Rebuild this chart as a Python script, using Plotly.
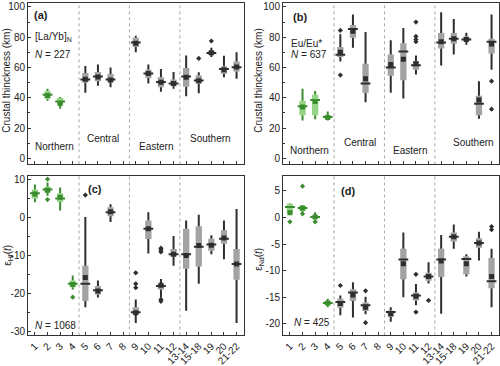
import plotly.graph_objects as go

CATS = ["1", "2", "3", "4", "5", "6", "7", "8", "9", "10", "11", "12",
        "13-14", "15-18", "19", "20", "21-22"]
NORTH = ["1", "2", "3", "4"]

# ---------------- panel (a) [La/Yb]N crustal thickness ----------------
a_cats = ["2", "3", "5", "6", "7", "9", "10", "11", "12", "13-14", "15-18", "19", "20", "21-22"]
a_lo = [38, 32.7, 43.4, 48, 47, 70, 49.5, 44, 46, 41, 43, 67, 53.5, 52.5]
a_q1 = [39.3, 35.5, 50, 51, 50.3, 73.5, 53, 47, 47.7, 47.3, 49.2, 68.2, 55.7, 57.4]
a_med = [42, 37.5, 52, 54, 52, 76.5, 56, 50.5, 49.5, 54, 51.5, 69.5, 59, 60.2]
a_q3 = [44.5, 39.8, 56.3, 57, 55.7, 79.6, 58.5, 53.5, 52, 59.6, 54.8, 71, 60.6, 63.9]
a_hi = [46, 40.6, 61, 62, 60, 81, 62, 59, 57, 68, 56.8, 73, 67.7, 70]
a_mean = [41.5, 36.3, 52.3, 53.8, 51.8, 76, 56, 50.3, 49.5, 53.5, 51.2, 69.8, 58.5, 60.3]
a_out_x = ["15-18", "19"]
a_out_y = [66, 77.5]

# ---------------- panel (b) Eu/Eu* crustal thickness ----------------
b_cats = ["2", "3", "4", "5", "6", "7", "9", "10", "11", "13-14", "15-18", "19", "20", "21-22"]
b_lo = [25, 25.8, 25, 64, 73, 37, 43.4, 39.6, 55.3, 61.3, 68.6, 75, 26.2, 58.5]
b_q1 = [28.4, 28.4, 26.2, 67, 79.6, 43.4, 54.6, 51.6, 58.5, 72.5, 75.7, 77.4, 28.4, 69.2]
b_med = [34.4, 38.5, 27.3, 68.5, 85.5, 49.5, 60, 70.5, 61.5, 76.5, 79, 78.5, 36, 77]
b_q3 = [38, 42, 28.4, 73.5, 88, 62.5, 68.6, 76, 64.3, 82.8, 82.8, 80.4, 41.3, 79]
b_hi = [46, 44.5, 31, 82, 95, 83.5, 78, 86, 68, 96.5, 92, 83, 51, 95]
b_mean = [34, 37.5, 27, 70, 84, 52.5, 62, 65.5, 62.5, 77, 79, 78.5, 38.5, 75.5]
b_out_x = ["5", "5", "11", "11", "11", "11", "21-22", "21-22"]
b_out_y = [84.5, 55, 90, 80.5, 78.5, 77, 51, 32.5]

# ---------------- panel (c) eHf(t) ----------------
c_cats = ["1", "2", "3", "4", "5", "6", "7", "9", "10", "11", "12", "13-14", "15-18", "19", "20", "21-22"]
c_lo = [4.1, 5.8, 1.9, -18.9, -23.6, -21, -1.1, -27.7, -9.4, -21, -12.6, -24.5, -17.4, -9.6, -10.9, -27.7]
c_q1 = [5.1, 6.7, 4.2, -18.3, -21.9, -20.2, 0.4, -25.5, -5.6, -18.9, -10.2, -13.4, -12.8, -8.7, -6.8, -16.3]
c_med = [6.5, 7.5, 5.1, -17.4, -17.4, -19.1, 1.5, -24.9, -2.9, -18, -9.6, -9.6, -7.6, -7, -5.5, -12.2]
c_q3 = [7.5, 8.2, 6.5, -16.5, -12.6, -18, 2.8, -23.6, -0.7, -17.4, -8.2, -2.9, -2.2, -5.5, -3.3, -8.2]
c_hi = [8.8, 9.3, 8, -15.2, 0.2, -16.5, 3.6, -21.5, 1.5, -16.1, -4.8, -0.7, 0.8, -4.6, -0.7, 2.3]
c_mean = [6.3, 7.3, 5.4, -17.6, -15.7, -19.3, 1.6, -25.0, -2.9, -17.8, -9.6, -9.9, -7.3, -7.2, -5.3, -12.2]
c_out_x = ["2", "2", "4", "5", "9", "9", "9", "11", "11", "11", "11", "11"]
c_out_y = [10.2, 4.8, -20.9, 6, -14.5, -17.4, -18.4, -8, -8.5, -9, -21.5, -22]

# ---------------- panel (d) eNd(t) ----------------
d_cats = ["1", "2", "3", "4", "5", "6", "7", "9", "10", "11", "12", "13-14", "15-18", "19", "20", "21-22"]
d_lo = [0.5, 0.6, -0.3, -16.9, -18.4, -18.8, -18.2, -19.6, -15, -16.5, -12.4, -18.1, -5.9, -11.1, -8.1, -16.9]
d_q1 = [0.8, 1.2, -0.2, -16.5, -17, -15.7, -17.6, -18.7, -11.6, -15.6, -11.9, -11.2, -4.5, -10.7, -5.7, -13.3]
d_med = [2.0, 1.8, 0.1, -16.1, -15.9, -14.1, -16.5, -17.8, -7.9, -14.7, -11.1, -7.9, -3.6, -7.8, -4.8, -12]
d_q3 = [2.6, 2.2, 0.4, -15.7, -15.3, -13.5, -16, -17.5, -5.9, -14.1, -10.4, -5.9, -2.8, -7.3, -3.9, -7.6]
d_hi = [2.7, 2.3, 1.0, -15.3, -14.7, -12.2, -14.9, -16.9, -2.8, -12.5, -8.4, -3.3, -1.3, -6.9, -2.7, -5.9]
d_mean = [0.9, 1.8, 0.1, -16.1, -16.2, -14.6, -16.9, -18.1, -8.7, -14.8, -11.1, -8.2, -3.6, -8.7, -4.8, -11.1]
d_out_x = ["1", "2", "2", "3", "5", "7", "7", "11", "11", "12", "21-22", "21-22"]
d_out_y = [-0.8, 5.9, 0.7, -0.8, -12.8, -13.8, -19.8, -10.7, -17.8, -15.6, -1.7, -2.3]

REGIONS = ["Northern", "Central", "Eastern", "Southern"]
SEPARATORS = [3.5, 7.5, 11.5]

# ---------------- styling ----------------
W, H = 500, 366
FONT = "Arial, Liberation Sans, sans-serif"
GRAY_FILL = "#a3a3a3"
GRAY_LINE = "#2e2e2e"
GREEN_FILL = "#93d585"
GREEN_LINE = "#3a8c2e"
AXIS = "#333333"


def px(x):
    return x / W


def py(y):
    return 1 - y / H


fig = go.Figure()

panels = [
    dict(cats=a_cats, lo=a_lo, q1=a_q1, med=a_med, q3=a_q3, hi=a_hi, mean=a_mean,
         ox=a_out_x, oy=a_out_y, xa="x", ya="y"),
    dict(cats=b_cats, lo=b_lo, q1=b_q1, med=b_med, q3=b_q3, hi=b_hi, mean=b_mean,
         ox=b_out_x, oy=b_out_y, xa="x2", ya="y2"),
    dict(cats=c_cats, lo=c_lo, q1=c_q1, med=c_med, q3=c_q3, hi=c_hi, mean=c_mean,
         ox=c_out_x, oy=c_out_y, xa="x3", ya="y3"),
    dict(cats=d_cats, lo=d_lo, q1=d_q1, med=d_med, q3=d_q3, hi=d_hi, mean=d_mean,
         ox=d_out_x, oy=d_out_y, xa="x4", ya="y4"),
]

for p in panels:
    xi = [CATS.index(c) for c in p["cats"]]
    green = [c in NORTH for c in p["cats"]]
    fills = [GREEN_FILL if g else GRAY_FILL for g in green]
    lines = [GREEN_LINE if g else GRAY_LINE for g in green]
    # boxes (interquartile range)
    fig.add_trace(go.Bar(
        x=xi, base=p["q1"], y=[b - a for a, b in zip(p["q1"], p["q3"])],
        width=0.5, marker=dict(color=fills, line=dict(width=0)),
        xaxis=p["xa"], yaxis=p["ya"], showlegend=False, hoverinfo="skip"))
    # whiskers
    for gflag, col in [(True, GREEN_LINE), (False, GRAY_LINE)]:
        wx, wy = [], []
        for k, x in enumerate(xi):
            if green[k] != gflag:
                continue
            wx += [x, x, None, x, x, None]
            wy += [p["lo"][k], p["q1"][k], None, p["q3"][k], p["hi"][k], None]
        if wx:
            fig.add_trace(go.Scatter(
                x=wx, y=wy, mode="lines", line=dict(color=col, width=2),
                xaxis=p["xa"], yaxis=p["ya"], showlegend=False, hoverinfo="skip"))
    # medians
    fig.add_trace(go.Scatter(
        x=xi, y=p["med"], mode="markers",
        marker=dict(symbol="line-ew", size=7, line=dict(color=lines, width=2)),
        xaxis=p["xa"], yaxis=p["ya"], showlegend=False, hoverinfo="skip"))
    # means
    fig.add_trace(go.Scatter(
        x=xi, y=p["mean"], mode="markers",
        marker=dict(symbol="square", size=5, color=lines, line=dict(width=0)),
        xaxis=p["xa"], yaxis=p["ya"], showlegend=False, hoverinfo="skip"))
    # outliers
    oxi = [CATS.index(c) for c in p["ox"]]
    ocol = [GREEN_LINE if c in NORTH else GRAY_LINE for c in p["ox"]]
    fig.add_trace(go.Scatter(
        x=oxi, y=p["oy"], mode="markers",
        marker=dict(symbol="diamond", size=4, color=ocol, line=dict(width=0)),
        xaxis=p["xa"], yaxis=p["ya"], showlegend=False, hoverinfo="skip"))

# ---------------- axes ----------------
XR = [-0.55, 16.59]
dom = {
    "a": ([28, 244], [1, 165]),
    "b": ([283, 499], [1, 165]),
    "c": ([28, 244], [177, 339]),
    "d": ([283, 499], [177, 339]),
}


def xdom(k):
    return [px(dom[k][0][0]), px(dom[k][0][1])]


def ydom(k):
    return [py(dom[k][1][1]), py(dom[k][1][0])]


common_x = dict(range=XR, tickmode="array", tickvals=list(range(len(CATS))),
                showline=True, linecolor=AXIS, linewidth=1, mirror=True,
                ticks="inside", ticklen=3, tickcolor=AXIS, showgrid=False,
                zeroline=False, tickfont=dict(family=FONT, size=10, color="#222"))

thick_ticks = [0, 20, 40, 60, 80, 100]
hf_ticks = [10, 0, -10, -20, -30]
nd_ticks = [5, 0, -5, -10, -15, -20]


def yax(rng, ticks, minor_vals, k):
    d = dict(range=rng, domain=ydom(k), tickmode="array", tickvals=ticks,
             ticktext=[str(t) for t in ticks],
             showline=True, linecolor=AXIS, linewidth=1, mirror=True,
             ticks="inside", ticklen=3, tickcolor=AXIS, showgrid=False,
             zeroline=False, tickfont=dict(family=FONT, size=10, color="#222"))
    if minor_vals:
        d["minor"] = dict(tickmode="array", tickvals=minor_vals, ticks="inside",
                          ticklen=2, tickcolor=AXIS, showgrid=False)
    return d


fig.update_layout(
    xaxis=dict(common_x, domain=xdom("a"), anchor="y", showticklabels=False),
    xaxis2=dict(common_x, domain=xdom("b"), anchor="y2", showticklabels=False),
    xaxis3=dict(common_x, domain=xdom("c"), anchor="y3", ticktext=CATS, tickangle=-45),
    xaxis4=dict(common_x, domain=xdom("d"), anchor="y4", ticktext=CATS, tickangle=-45),
    yaxis=dict(yax([-3.9, 102.6], thick_ticks, [10, 30, 50, 70, 90], "a"), anchor="x"),
    yaxis2=dict(yax([-3.9, 102.6], thick_ticks, [10, 30, 50, 70, 90], "b"), anchor="x2"),
    yaxis3=dict(yax([-31.0, 11.0], hf_ticks, [5, -5, -15, -25], "c"), anchor="x3"),
    yaxis4=dict(yax([-22.2, 7.8], nd_ticks, None, "d"), anchor="x4"),
)

# separators
shapes = []
for xa, ya in [("x", "y"), ("x2", "y2"), ("x3", "y3"), ("x4", "y4")]:
    for s in SEPARATORS:
        shapes.append(dict(type="line", xref=xa, yref=ya + " domain", x0=s, x1=s,
                           y0=0, y1=1, line=dict(color="#a8a8a8", width=1, dash="dot"),
                           layer="below"))

# annotations
ann = []


def text(x, y, t, size=10, bold=False, angle=0, xanchor="center", color="#222"):
    ann.append(dict(x=px(x), y=py(y), xref="paper", yref="paper", text=t,
                    showarrow=False, xanchor=xanchor, yanchor="middle",
                    textangle=angle, font=dict(family=FONT, size=size, color=color)))


text(41, 13, "<b>(a)</b>", size=11)
text(300, 15, "<b>(b)</b>", size=11)
text(95, 190, "<b>(c)</b>", size=11)
text(348, 192, "<b>(d)</b>", size=11)

text(33, 36, "[La/Yb]<sub>N</sub>", xanchor="left")
text(33, 53, "<i>N</i> = 227", xanchor="left")
text(289, 42, "Eu/Eu*", xanchor="left")
text(289, 53, "<i>N</i> = 637", xanchor="left")
text(33, 329, "<i>N</i> = 1068", xanchor="left")
text(292, 326, "<i>N</i> = 425", xanchor="left")

for (x, y), r in zip([(54, 147), (103, 139), (155.5, 147), (210, 139)], REGIONS):
    text(x, y, r)
for (x, y), r in zip([(309.5, 151), (360, 143), (410, 151), (473.5, 143)], REGIONS):
    text(x, y, r)

text(7, 80, "Crustal thinckness (km)", angle=-90)
text(259, 80, "Crustal thinckness (km)", angle=-90)
text(8, 258, "ε<sub>Hf</sub>(<i>t</i>)", angle=-90)
text(259, 262, "ε<sub>Nd</sub>(<i>t</i>)", angle=-90)

fig.update_layout(
    width=W, height=H, margin=dict(l=0, r=0, t=0, b=0),
    paper_bgcolor="white", plot_bgcolor="white",
    barmode="overlay", showlegend=False,
    shapes=shapes, annotations=ann,
    font=dict(family=FONT, size=10, color="#222"),
)

fig.write_html("out.html", config={"displayModeBar": False},
               post_script="document.body.style.margin='0';document.body.style.padding='0';")
